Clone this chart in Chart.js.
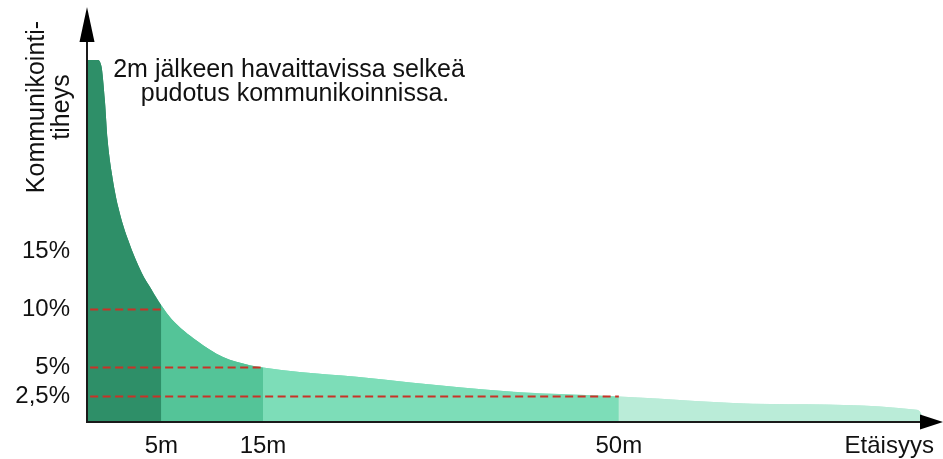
<!DOCTYPE html>
<html lang="fi">
<head>
<meta charset="utf-8">
<title>Kommunikointitiheys</title>
<script src="https://cdn.jsdelivr.net/npm/chart.js@4.4.1/dist/chart.umd.min.js"></script>
<style>
  html, body { margin: 0; padding: 0; background: #fff; }
  #wrap { width: 943px; height: 459px; }
</style>
</head>
<body>
<div id="wrap"><canvas id="tiheysChart"></canvas></div>
<script>
// käyrä luettuna kuvasta: etäisyys (m) ja kommunikointitiheys (%)
const etaisyys = [-2.31, -1.3, -0.9, -0.55, -0.28, 0.12, 0.77, 1.75, 3.07, 4.08, 5, 6.02, 8.5, 11.07, 13.7, 15, 18.6, 24.2, 29.5, 39.6, 50, 65, 79.3, 79.8, 80];
const tiheys   = [31.5, 31.5, 31.0, 28.0, 24.6, 21.8, 18.8, 15.95, 13.15, 11.65, 10.35, 9.15, 7.3, 5.9, 5.2, 5.0, 4.6, 4.2, 3.7, 2.9, 2.5, 1.85, 1.35, 0.9, 0.3];

// väritetyt alueet (rajat metreinä)
const alueRajat = [5, 15, 50];
const alueVarit = ['#2e8f68', '#54c498', '#7dddb8', '#baecd8'];

// punaiset katkoviivat
const viivaTasot = [10, 5, 2.5];
const viivaLoput = [5, 15, 50];
const viivaAlku = -2.0;

const yTicks = [2.5, 5, 10, 15];
const yTickLabels = ['2,5%', '5%', '10%', '15%'];
const xTicks = [5, 15, 50, 76.6];
const xTickLabels = ['5m', '15m', '50m', 'Etäisyys'];

const yTitle = ['Kommunikointi-', 'tiheys'];
const huomio = ['2m jälkeen havaittavissa selkeä', 'pudotus kommunikoinnissa.'];

const FONT = '"Liberation Sans", Arial, sans-serif';

function alueenVari(x) {
  let i = 0;
  while (i < alueRajat.length && x >= alueRajat[i]) i++;
  return alueVarit[i];
}

const kayra = etaisyys.map((x, i) => ({ x: x, y: tiheys[i] }));

const datasets = [];
viivaTasot.forEach((taso, i) => {
  datasets.push({
    data: [{ x: viivaAlku, y: taso }, { x: viivaLoput[i], y: taso }],
    borderColor: '#c93227',
    borderWidth: 2,
    borderDash: [8, 4.5],
    pointRadius: 0,
    fill: false
  });
});
// varsinainen täyttö, väri vaihtuu rajoilla
datasets.push({
  data: kayra,
  backgroundColor: alueVarit[0],
  borderWidth: 0,
  borderColor: 'rgba(0,0,0,0)',
  pointRadius: 0,
  cubicInterpolationMode: 'monotone',
  fill: 'start',
  segment: { backgroundColor: c => alueenVari(c.p0.parsed.x) }
});
// alla oleva kerros peittää saumat rajoilla
datasets.push({
  data: kayra,
  backgroundColor: alueVarit[0],
  borderWidth: 0,
  borderColor: 'rgba(0,0,0,0)',
  pointRadius: 0,
  cubicInterpolationMode: 'monotone',
  fill: 'start',
  segment: { backgroundColor: c => alueenVari(c.p1.parsed.x) }
});

const akselitJaTekstit = {
  id: 'akselitJaTekstit',
  afterDatasetsDraw(chart) {
    const ctx = chart.ctx;
    const a = chart.chartArea;
    ctx.save();
    ctx.strokeStyle = '#1a1a1a';
    ctx.fillStyle = '#000';
    ctx.lineWidth = 2;

    ctx.beginPath();
    ctx.moveTo(a.left, a.bottom + 1);
    ctx.lineTo(a.left, 30);
    ctx.stroke();
    ctx.beginPath();
    ctx.moveTo(a.left, 7);
    ctx.lineTo(a.left - 7.5, 42);
    ctx.lineTo(a.left + 7.5, 42);
    ctx.closePath();
    ctx.fill();

    ctx.beginPath();
    ctx.moveTo(a.left - 1, a.bottom);
    ctx.lineTo(925, a.bottom);
    ctx.stroke();
    ctx.beginPath();
    ctx.moveTo(943, a.bottom);
    ctx.lineTo(920, a.bottom - 7.5);
    ctx.lineTo(920, a.bottom + 7.5);
    ctx.closePath();
    ctx.fill();

    ctx.fillStyle = '#111';
    ctx.textAlign = 'center';
    ctx.textBaseline = 'alphabetic';
    ctx.font = '25px ' + FONT;
    ctx.fillText(huomio[0], 289, 77);
    ctx.fillText(huomio[1], 295, 101);

    ctx.textBaseline = 'middle';
    yTitle.forEach((rivi, i) => {
      ctx.save();
      ctx.translate(37 + i * 25, 107);
      ctx.rotate(-Math.PI / 2);
      ctx.fillText(rivi, 0, 0);
      ctx.restore();
    });
    ctx.restore();
  }
};

new Chart(document.getElementById('tiheysChart'), {
  type: 'line',
  data: { datasets: datasets },
  options: {
    responsive: true,
    maintainAspectRatio: false,
    animation: false,
    layout: { padding: { top: 10, right: 8, left: 0, bottom: 0 } },
    plugins: { legend: { display: false }, tooltip: { enabled: false } },
    scales: {
      x: {
        type: 'linear',
        min: -2.31,
        max: 81.1,
        grid: { display: false, drawTicks: false },
        border: { display: false },
        afterFit(scale) {
          scale.height = 37;
          scale.paddingLeft = 0;
          scale.paddingRight = 0;
        },
        afterBuildTicks(scale) { scale.ticks = xTicks.map(v => ({ value: v })); },
        ticks: {
          padding: 10,
          maxRotation: 0,
          autoSkip: false,
          color: '#111',
          font: { family: FONT, size: 24 },
          callback: (v, i) => xTickLabels[i]
        }
      },
      y: {
        type: 'linear',
        min: 0.3,
        max: 35.8,
        grid: { display: false, drawTicks: false },
        border: { display: false },
        afterFit(scale) {
          scale.width = 87;
          scale.paddingTop = 0;
          scale.paddingBottom = 0;
        },
        afterBuildTicks(scale) { scale.ticks = yTicks.map(v => ({ value: v })); },
        ticks: {
          padding: 17,
          autoSkip: false,
          color: '#111',
          font: { family: FONT, size: 24 },
          callback: (v, i) => yTickLabels[i]
        }
      }
    }
  },
  plugins: [akselitJaTekstit]
});
</script>
</body>
</html>
